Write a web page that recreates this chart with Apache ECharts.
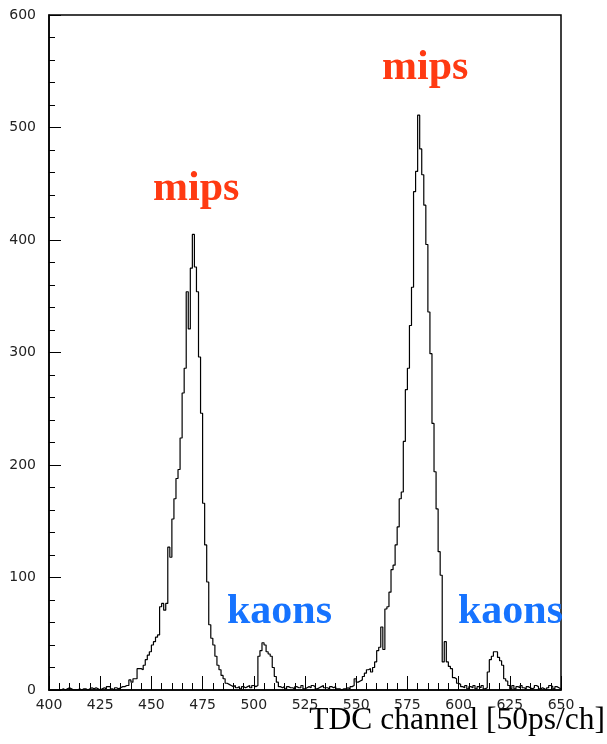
<!DOCTYPE html>
<html>
<head>
<meta charset="utf-8">
<script src="https://cdn.jsdelivr.net/npm/echarts@6/dist/echarts.min.js"></script>
<style>
  html, body { margin: 0; padding: 0; background: #fff; }
  #chart { width: 607px; height: 744px; }
</style>
</head>
<body>
<div id="chart"></div>
<script>
  // TDC histogram, one bin per channel, starting at channel 400
  const firstChannel = 400
  const counts = [
    0, 0, 0, 0, 0, 0, 1, 0, 1, 2, // 400
    1, 0, 0, 0, 1, 0, 1, 1, 0, 1, // 410
    2, 1, 2, 1, 0, 1, 2, 1, 3, 3, // 420
    1, 0, 2, 1, 2, 3, 3, 4, 4, 9, // 430
    7, 10, 10, 19, 19, 18, 22, 27, 31, 34, // 440
    40, 43, 47, 49, 74, 77, 71, 77, 127, 118, // 450
    152, 170, 188, 196, 224, 264, 286, 354, 321, 375, // 460
    405, 376, 354, 296, 246, 166, 129, 96, 58, 46, // 470
    40, 30, 22, 18, 13, 10, 6, 5, 4, 3, // 480
    4, 2, 3, 1, 3, 2, 3, 4, 2, 4, // 490
    3, 4, 30, 35, 42, 40, 34, 32, 30, 20, // 500
    12, 7, 3, 2, 3, 1, 3, 2, 2, 1, // 510
    3, 2, 2, 4, 1, 2, 3, 2, 4, 3, // 520
    1, 2, 3, 4, 2, 2, 1, 3, 2, 3, // 530
    1, 1, 0, 1, 1, 2, 1, 3, 4, 10, // 540
    7, 8, 9, 12, 15, 18, 19, 16, 20, 25, // 550
    35, 38, 56, 36, 72, 74, 87, 107, 111, 129, // 560
    145, 170, 176, 221, 267, 286, 324, 358, 443, 461, // 570
    511, 481, 458, 431, 396, 336, 299, 237, 194, 161, // 580
    123, 102, 25, 43, 25, 21, 19, 11, 10, 6, // 590
    5, 3, 2, 4, 1, 3, 2, 4, 1, 3, // 600
    2, 4, 1, 2, 16, 27, 30, 34, 34, 29, // 610
    26, 22, 10, 8, 4, 1, 4, 1, 3, 2, // 620
    4, 2, 1, 3, 2, 1, 2, 4, 3, 1, // 630
    2, 1, 0, 2, 4, 3, 1, 3, 2, 1 // 640
  ]

  const xRange = [400, 650]
  const yRange = [0, 600]
  const xTitle = 'TDC channel [50ps/ch]'

  const peakLabels = [
    { text: 'mips', x: 153, y: 189, color: '#ff3a12' },
    { text: 'mips', x: 382, y: 68, color: '#ff3a12' },
    { text: 'kaons', x: 227, y: 612, color: '#1673ff' },
    { text: 'kaons', x: 458, y: 612, color: '#1673ff' }
  ]

  // bin left edges + closing point at the right edge
  const histData = counts.map((v, i) => [firstChannel + i, v])
  histData.push([firstChannel + counts.length, counts[counts.length - 1]])

  const labelFont = { fontFamily: 'DejaVu Sans', fontSize: 14, color: '#222' }

  const chart = echarts.init(document.getElementById('chart'), null, { renderer: 'canvas' })
  chart.setOption({
    animation: false,
    backgroundColor: '#fff',
    grid: {
      left: 49,
      right: 46,
      top: 15,
      bottom: 54,
      show: true,
      borderColor: '#000',
      borderWidth: 1.5
    },
    xAxis: {
      type: 'value',
      min: xRange[0],
      max: xRange[1],
      interval: 25,
      axisLine: { lineStyle: { color: '#000', width: 1.5 } },
      axisTick: { inside: true, length: 14, lineStyle: { color: '#000', width: 1 } },
      minorTick: { show: true, splitNumber: 5, length: 7, lineStyle: { color: '#000', width: 1 } },
      splitLine: { show: false },
      axisLabel: Object.assign({ margin: 8 }, labelFont)
    },
    yAxis: {
      type: 'value',
      min: yRange[0],
      max: yRange[1],
      interval: 100,
      axisLine: { show: true, lineStyle: { color: '#000', width: 1.5 } },
      axisTick: { show: true, inside: true, length: 12, lineStyle: { color: '#000', width: 1 } },
      minorTick: { show: true, splitNumber: 5, length: 6, lineStyle: { color: '#000', width: 1 } },
      splitLine: { show: false },
      axisLabel: Object.assign({ margin: 13 }, labelFont)
    },
    series: [
      {
        type: 'line',
        step: 'end',
        data: histData,
        showSymbol: false,
        lineStyle: { color: '#000', width: 1.2 },
        z: 3
      }
    ],
    graphic: peakLabels.map(l => ({
      type: 'text',
      x: l.x,
      y: l.y,
      style: {
        text: l.text,
        fill: l.color,
        font: 'bold 42px "Liberation Serif"',
        textAlign: 'left',
        textVerticalAlign: 'middle'
      }
    })).concat([{
      type: 'text',
      x: 605,
      y: 721,
      style: {
        text: xTitle,
        fill: '#000',
        font: '31.5px "Liberation Serif"',
        textAlign: 'right',
        textVerticalAlign: 'middle'
      }
    }])
  })
</script>
</body>
</html>
